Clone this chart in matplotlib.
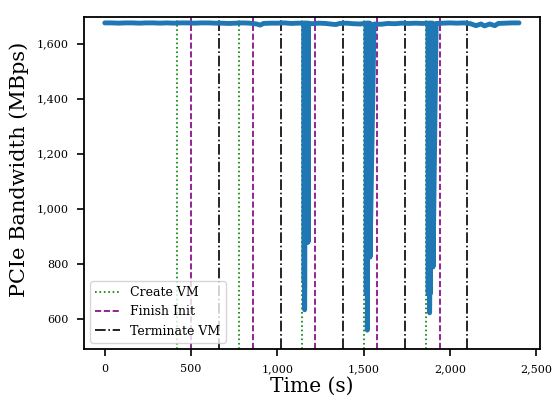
import matplotlib
matplotlib.use("Agg")
import matplotlib.pyplot as plt
import matplotlib.ticker as mticker
import numpy as np

# ---- data ----
base_t = [0, 40, 80, 120, 160, 200, 240, 280, 320, 360, 400, 440, 480, 520, 560, 600,
          640, 680, 720, 760, 800, 840, 880, 900, 920, 960, 1000, 1040, 1080, 1120,
          1200, 1240, 1280, 1320, 1340, 1360, 1400, 1440, 1480, 1560, 1600, 1640,
          1680, 1720, 1760, 1800, 1840, 1920, 1960, 2000, 2040, 2080, 2120, 2150,
          2180, 2200, 2230, 2260, 2280, 2320, 2360, 2400]
base_bw = [1675, 1675, 1674, 1675, 1675, 1674, 1675, 1675, 1674, 1675, 1674, 1675, 1675, 1674, 1675, 1675,
           1674, 1674, 1673, 1674, 1675, 1674, 1671, 1667, 1673, 1674, 1674, 1675, 1673, 1674,
           1672, 1674, 1673, 1670, 1669, 1673, 1674, 1672, 1671, 1671, 1670, 1673,
           1672, 1674, 1673, 1674, 1673, 1673, 1674, 1675, 1674, 1675, 1672, 1665,
           1671, 1664, 1671, 1665, 1673, 1674, 1675, 1675]

dip1_t = [1154, 1155, 1156, 1157, 1158, 1159, 1160, 1162, 1164, 1166, 1168, 1170, 1172, 1174, 1176, 1178, 1179]
dip1_bw = [1674, 733, 1674, 733, 632, 733, 1674, 878, 1674, 878, 1674, 878, 1674, 878, 1674, 878, 1674]

dip2_t = [1513, 1515, 1517, 1519, 1520, 1521, 1522, 1524, 1526, 1528, 1530, 1532, 1534, 1536, 1537]
dip2_bw = [1674, 691, 1674, 691, 1674, 558, 691, 1674, 824, 1674, 824, 1674, 824, 1674, 824]

dip3_t = [1872, 1874, 1876, 1878, 1880, 1882, 1883, 1884, 1886, 1888, 1890, 1892, 1894, 1896, 1898, 1900, 1902]
dip3_bw = [1674, 691, 1674, 691, 1674, 621, 691, 1674, 691, 1674, 788, 1674, 788, 1674, 788, 1674, 788]

create_vm = [420, 780, 1140, 1500, 1860]
finish_init = [500, 860, 1220, 1580, 1940]
terminate_vm = [660, 1020, 1380, 1740, 2100]

# ---- build series ----
t = np.array(base_t + dip1_t + dip2_t + dip3_t, dtype=float)
bw = np.array(base_bw + dip1_bw + dip2_bw + dip3_bw, dtype=float)
order = np.argsort(t, kind="stable")
t, bw = t[order], bw[order]

plt.rcParams['font.family'] = ['DejaVu Serif']
fig = plt.figure(figsize=(5.53, 4.01), dpi=100)
ax = fig.add_axes([0.152, 0.130, 0.824, 0.828])

ax.plot(t, bw, color='#1f77b4', lw=3.5, solid_capstyle='round', solid_joinstyle='round', zorder=3)

for i, x in enumerate(create_vm):
    ax.axvline(x, color='green', ls=':', lw=1.2, label='Create VM' if i == 0 else None, zorder=2)
for i, x in enumerate(finish_init):
    ax.axvline(x, color='purple', ls='--', lw=1.2, label='Finish Init' if i == 0 else None, zorder=2)
for i, x in enumerate(terminate_vm):
    ax.axvline(x, color='black', ls='-.', lw=1.2, label='Terminate VM' if i == 0 else None, zorder=2)

ax.set_xlim(-120, 2520)
ax.set_ylim(490, 1697)
ax.set_xticks([0, 500, 1000, 1500, 2000, 2500])
ax.set_yticks([600, 800, 1000, 1200, 1400, 1600])
fmt = mticker.FuncFormatter(lambda v, p: f"{int(v):,}")
ax.xaxis.set_major_formatter(fmt)
ax.yaxis.set_major_formatter(fmt)
ax.tick_params(labelsize=8, length=5, width=1.2, direction='out', pad=6)
for s in ax.spines.values():
    s.set_linewidth(1.3)

ax.set_xlabel('Time (s)', fontsize=14.5, labelpad=2)
ax.set_ylabel('PCIe Bandwidth (MBps)', fontsize=15)
ax.yaxis.set_label_coords(-0.12, 0.54)

ax.legend(loc='lower left', fontsize=9, framealpha=0.8)

fig.savefig('out.png', dpi=100)
